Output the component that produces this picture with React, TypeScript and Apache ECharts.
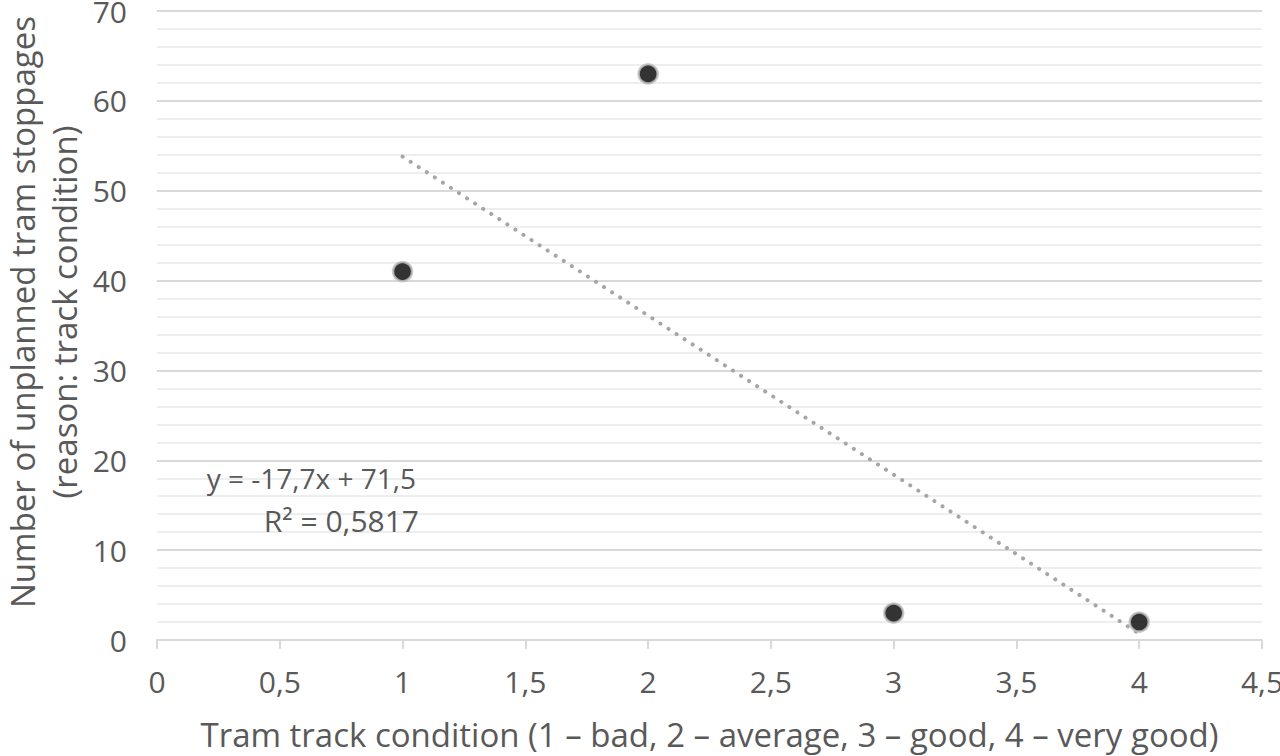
import React, { useEffect, useRef } from "react";
import * as echarts from "echarts";

const trackCondition = [1, 2, 3, 4];
const stoppages = [41, 63, 3, 2];
const trendX = [1, 4];
const slope = -17.7;
const intercept = 71.5;
const equationLines = ["y = -17,7x + 71,5", "R² = 0,5817"];
const xTitle = "Tram track condition (1 – bad, 2 – average, 3 – good, 4 – very good)";
const yTitle = "Number of unplanned tram stoppages\n(reason: track condition)";

const FONT = "'Open Sans', 'Noto Sans', sans-serif";
const TXT = "#595959";

export default function App() {
  const ref = useRef<HTMLDivElement>(null);
  useEffect(() => {
    const chart = echarts.init(ref.current!, undefined, { renderer: "svg" });
    const points = trackCondition.map((x, i) => [x, stoppages[i]]);
    const trend = trendX.map((x) => [x, +(slope * x + intercept).toFixed(2)]);
    const fmt = (v: number) => String(v).replace(".", ",");
    chart.setOption({
      animation: false,
      backgroundColor: "#fff",
      textStyle: { fontFamily: FONT },
      grid: { left: 157, right: 18, top: 11, bottom: 116, containLabel: false, outerBoundsMode: "none" },
      xAxis: {
        type: "value",
        min: 0,
        max: 4.5,
        interval: 0.5,
        name: xTitle,
        nameLocation: "middle",
        nameGap: 78,
        nameTextStyle: { color: TXT, fontSize: 33, fontFamily: FONT },
        axisLine: { show: true, lineStyle: { color: "#d9d9d9", width: 2 } },
        axisTick: { show: true, length: 9, lineStyle: { color: "#d9d9d9", width: 2 } },
        axisLabel: { color: TXT, fontSize: 30, margin: 26, formatter: fmt },
        splitLine: { show: false },
      },
      yAxis: {
        type: "value",
        min: 0,
        max: 70,
        interval: 10,
        axisLine: { show: false },
        axisTick: { show: false },
        axisLabel: { color: TXT, fontSize: 30, margin: 30 },
        splitLine: { show: true, lineStyle: { color: "#d9d9d9", width: 2 } },
        minorTick: { show: false, splitNumber: 5 },
        minorSplitLine: { show: true, lineStyle: { color: "#eeeeee", width: 2 } },
      },
      series: [
        {
          type: "line",
          data: trend,
          symbol: "none",
          lineStyle: { color: "#a6a6a6", width: 4, type: [0.1, 9.5], cap: "round" },
          z: 2,
        },
        {
          type: "scatter",
          data: points,
          symbol: "circle",
          symbolSize: 19,
          itemStyle: { color: "#000000", borderColor: "#c0c0c0", borderWidth: 2.5 },
          z: 3,
        },
      ],
      graphic: [
        {
          type: "text",
          x: 43,
          y: 312,
          rotation: Math.PI / 2,
          z: 100,
          style: {
            text: yTitle,
            fill: TXT,
            font: `33px ${FONT}`,
            lineHeight: 42,
            align: "center",
            verticalAlign: "middle",
          },
        },
        {
          type: "text",
          x: 416,
          y: 478,
          z: 100,
          style: {
            text: equationLines[0],
            fill: TXT,
            font: `28px ${FONT}`,
            align: "right",
            verticalAlign: "middle",
          },
        },
        {
          type: "text",
          x: 419,
          y: 520,
          z: 100,
          style: {
            text: equationLines[1],
            fill: TXT,
            font: `30px ${FONT}`,
            align: "right",
            verticalAlign: "middle",
          },
        },
      ],
    });
    return () => chart.dispose();
  }, []);
  return <div ref={ref} style={{ position: "fixed", left: 0, top: 0, width: 1280, height: 756 }} />;
}
